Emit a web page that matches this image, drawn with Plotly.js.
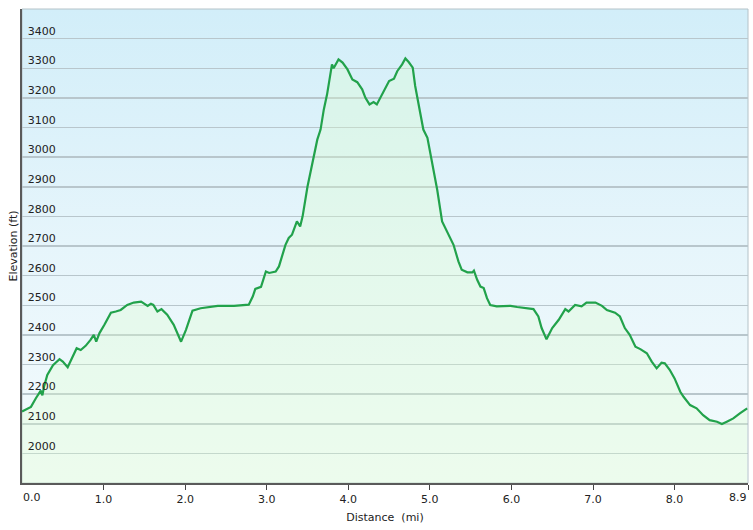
<!DOCTYPE html>
<html>
<head>
<meta charset="utf-8">
<script src="https://cdn.plot.ly/plotly-3.0.1.min.js"></script>
<style>html,body{margin:0;padding:0;background:#fff;}#chart{width:753px;height:530px;}</style>
</head>
<body>
<div id="chart"></div>
<script>
// Distance along trail (mi)
const distance = [0.00,0.11,0.17,0.23,0.25,0.27,0.31,0.38,0.46,0.50,0.56,0.62,0.67,0.72,0.78,0.84,0.88,0.91,0.95,1.01,1.09,1.15,1.21,1.29,1.37,1.46,1.54,1.58,1.61,1.66,1.71,1.78,1.86,1.95,2.01,2.09,2.19,2.40,2.60,2.78,2.83,2.86,2.93,2.99,3.03,3.11,3.15,3.23,3.27,3.31,3.37,3.41,3.44,3.50,3.56,3.62,3.66,3.70,3.74,3.78,3.80,3.82,3.86,3.88,3.93,3.99,4.05,4.11,4.17,4.21,4.26,4.31,4.35,4.39,4.43,4.50,4.56,4.60,4.66,4.70,4.74,4.79,4.82,4.86,4.92,4.97,5.03,5.05,5.09,5.15,5.21,5.29,5.35,5.39,5.46,5.52,5.54,5.58,5.62,5.66,5.70,5.74,5.82,5.99,6.07,6.27,6.33,6.37,6.43,6.50,6.58,6.66,6.70,6.78,6.86,6.92,7.03,7.11,7.17,7.27,7.33,7.39,7.45,7.52,7.58,7.66,7.72,7.78,7.84,7.88,7.94,8.00,8.07,8.11,8.19,8.27,8.35,8.43,8.52,8.58,8.64,8.72,8.80,8.86,8.89];
// Elevation (ft)
const elevation = [2141,2157,2186,2212,2196,2225,2265,2298,2318,2310,2291,2327,2355,2349,2363,2383,2400,2377,2406,2434,2475,2479,2484,2501,2509,2512,2498,2505,2501,2479,2487,2468,2434,2377,2417,2482,2490,2498,2498,2502,2530,2555,2562,2614,2609,2614,2631,2704,2727,2738,2783,2766,2800,2901,2986,3059,3093,3161,3212,3285,3313,3300,3321,3330,3319,3296,3262,3253,3229,3200,3178,3186,3178,3200,3223,3257,3265,3290,3313,3333,3321,3302,3240,3178,3093,3065,2975,2952,2890,2783,2749,2704,2648,2620,2611,2611,2617,2586,2563,2558,2524,2501,2496,2498,2494,2487,2462,2423,2385,2423,2451,2487,2479,2501,2496,2509,2509,2498,2484,2475,2462,2423,2400,2360,2352,2338,2310,2287,2306,2304,2282,2253,2208,2191,2163,2152,2129,2112,2107,2099,2107,2118,2135,2146,2152];

const xTickVals = [0,1,2,3,4,5,6,7,8,8.9];
const xTickText = ["0.0","1.0","2.0","3.0","4.0","5.0","6.0","7.0","8.0","8.9"];
const yTickVals = [2000,2100,2200,2300,2400,2500,2600,2700,2800,2900,3000,3100,3200,3300,3400];
const xRange = [0, 8.9];
const yRange = [1900, 3500];

const font = {family: "DejaVu Sans, Verdana, sans-serif", size: 11, color: "#222"};

const bgSvg = '<svg xmlns="http://www.w3.org/2000/svg" width="100" height="100" viewBox="0 0 100 100" preserveAspectRatio="none">' +
  '<defs><linearGradient id="g" x1="0" y1="0" x2="0" y2="1">' +
  '<stop offset="0" stop-color="#d2eef9"/><stop offset="0.5" stop-color="#e6f5fb"/><stop offset="1" stop-color="#f4fbfd"/>' +
  '</linearGradient></defs><rect width="100" height="100" fill="url(#g)"/></svg>';
const bgSrc = "data:image/svg+xml;base64," + btoa(bgSvg);

const trace = {
  x: distance, y: elevation,
  type: "scatter", mode: "lines",
  line: {color: "#22a24b", width: 2.2},
  fill: "tozeroy",
  fillcolor: "rgba(222,255,205,0.32)",
  hoverinfo: "x+y"
};

// edge tick labels drawn as annotations (left-/right-aligned like the original)
const last = xTickVals.length - 1;
const axisTickText = xTickText.map((t, i) => (i === 0 || i === last) ? "" : t);
const edgeLabels = [
  {x: xTickVals[0], text: xTickText[0], xanchor: "left", xshift: -1},
  {x: xTickVals[last], text: xTickText[last], xanchor: "right", xshift: 1}
].map(a => Object.assign({
  xref: "x", yref: "paper", y: 0, yanchor: "top", yshift: -6,
  showarrow: false, font: font
}, a));

const layout = {
  width: 753, height: 530,
  margin: {l: 22, r: 5, t: 9, b: 47},
  paper_bgcolor: "#ffffff",
  plot_bgcolor: "rgba(0,0,0,0)",
  showlegend: false,
  font: font,
  images: [{
    source: bgSrc, xref: "paper", yref: "paper",
    x: 0, y: 1, sizex: 1, sizey: 1, sizing: "stretch",
    xanchor: "left", yanchor: "top", layer: "below"
  }],
  shapes: [{
    type: "rect", xref: "paper", yref: "paper", x0: 0, x1: 1, y0: 0, y1: 1,
    line: {color: "#b4c2c8", width: 1}, layer: "below"
  }],
  annotations: edgeLabels,
  xaxis: {
    range: xRange, tickmode: "array", tickvals: xTickVals, ticktext: axisTickText,
    showgrid: false, zeroline: false,
    showline: true, linecolor: "#5a5a5a", linewidth: 2,
    ticks: "outside", ticklen: 5, tickwidth: 1, tickcolor: "#444",
    tickfont: font, ticklabeloverflow: "allow",
    title: {text: "Distance\u00a0\u00a0(mi)", font: {family: font.family, size: 11, color: "#222"}, standoff: 8},
    fixedrange: true
  },
  yaxis: {
    range: yRange, tickmode: "array", tickvals: yTickVals,
    showgrid: true, gridcolor: "#b8c6cc", gridwidth: 1.5,
    zeroline: false,
    showline: true, linecolor: "#5a5a5a", linewidth: 2,
    ticks: "", ticklabelposition: "inside top", ticklabelstandoff: 4,
    tickfont: font,
    automargin: false,
    title: {text: "Elevation (ft)", font: {family: font.family, size: 11, color: "#222"}, standoff: 8},
    fixedrange: true
  }
};

Plotly.newPlot("chart", [trace], layout, {displayModeBar: false, staticPlot: true});
</script>
</body>
</html>
